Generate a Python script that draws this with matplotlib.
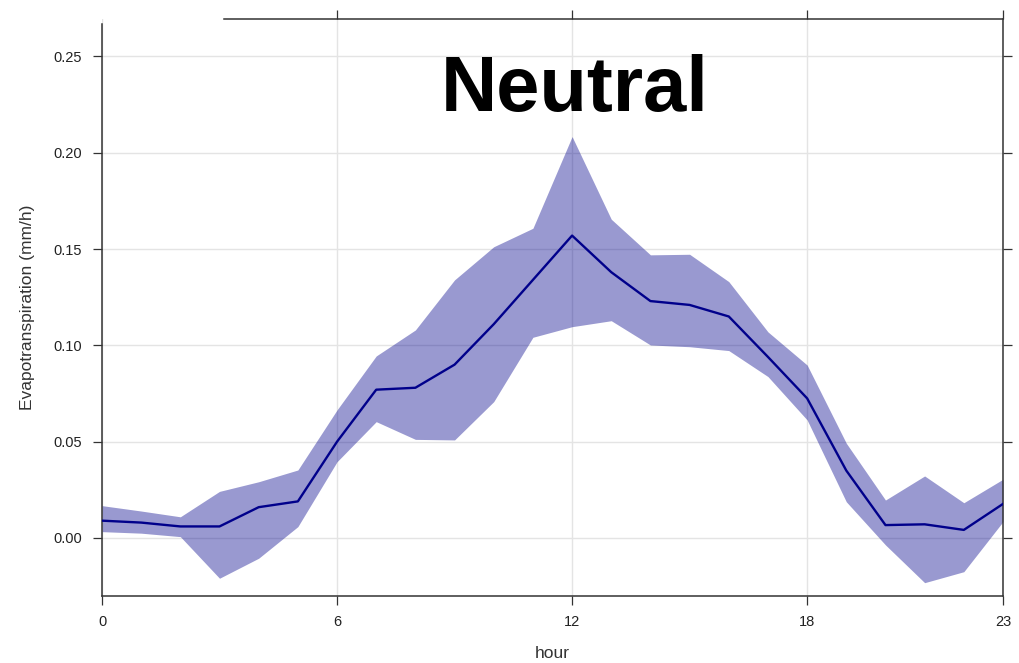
import matplotlib.pyplot as plt

plt.rcParams['font.family'] = ['Liberation Sans', 'DejaVu Sans']

# hourly evapotranspiration (mm/h), mean and band
hours = list(range(24))
et_mean = [0.009, 0.008, 0.006, 0.006, 0.016, 0.019, 0.050, 0.077,
           0.078, 0.090, 0.111, 0.134, 0.157, 0.138, 0.123, 0.121,
           0.115, 0.094, 0.0725, 0.035, 0.0067, 0.0071, 0.0042, 0.0177]
et_upper = [0.0168, 0.014, 0.011, 0.0242, 0.0292, 0.0353, 0.0665, 0.0945,
            0.108, 0.134, 0.1512, 0.1608, 0.2084, 0.1655, 0.147, 0.1473,
            0.1331, 0.107, 0.0898, 0.0492, 0.0197, 0.0322, 0.0183, 0.0305]
et_lower = [0.0033, 0.0025, 0.0007, -0.0209, -0.0105, 0.0059, 0.0396, 0.0604,
            0.0512, 0.0509, 0.0708, 0.1042, 0.1097, 0.1128, 0.1002, 0.0993,
            0.0973, 0.0838, 0.0613, 0.0188, -0.0036, -0.0232, -0.0175, 0.0085]

xticks = [0, 6, 12, 18, 23]
yticks = [0.00, 0.05, 0.10, 0.15, 0.20, 0.25]

fig = plt.figure(figsize=(10.19, 6.63), dpi=100)
ax = fig.add_axes([0.1001, 0.1011, 0.8842, 0.8707])

ax.fill_between(hours, et_lower, et_upper, color='#00008b', alpha=0.4,
                linewidth=0, zorder=2)
ax.plot(hours, et_mean, color='#00008b', linewidth=1.7, zorder=3)

ax.set_xlim(0, 23)
ax.set_ylim(-0.0301, 0.2696)
ax.set_xticks(xticks)
ax.set_yticks(yticks)
ax.set_yticklabels(['%.2f' % v for v in yticks])
ax.grid(True, color='#e4e4e4', linewidth=1.0, zorder=1)
ax.set_axisbelow(True)

ax.tick_params(axis='both', direction='out', length=6.5, width=0.9,
               color='#333333', labelsize=10.5, labelcolor='#222222')
ax.tick_params(axis='x', pad=7.5, top=True)
ax.tick_params(axis='y', pad=8, right=True)
# no top tick where the top border is missing
ax.xaxis.get_major_ticks()[0].tick2line.set_visible(False)

for s in ax.spines.values():
    s.set_color('#333333')
    s.set_linewidth(1.1)
ax.spines['top'].set_bounds(3.11, 23)
ax.spines['left'].set_bounds(-0.0301, 0.2668)

ax.set_xlabel('hour', fontsize=12.5, color='#333333', labelpad=12)
ax.set_ylabel('Evapotranspiration (mm/h)', fontsize=12.5, color='#333333',
              labelpad=13)

ax.text(12.06, 0.2218, 'Neutral', fontsize=56, fontweight='bold',
        ha='center', va='baseline', color='black', zorder=5)

fig.savefig('out.png', dpi=100)
